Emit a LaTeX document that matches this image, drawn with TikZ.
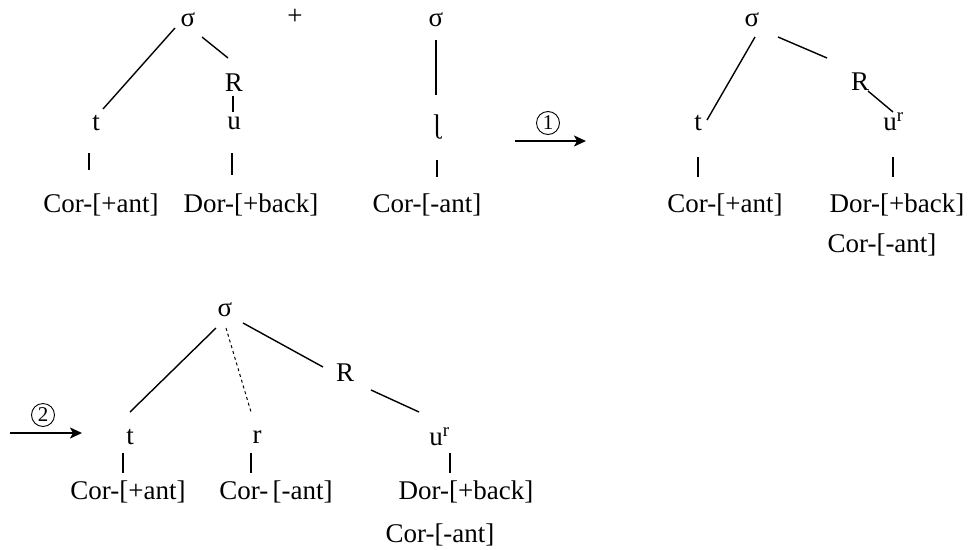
\documentclass[tikz,border=0pt]{standalone}
\usepackage{fontspec}
\setmainfont{Liberation Serif}
\usepackage{tikz}
\usetikzlibrary{arrows.meta}

\tikzset{
  seg/.style={line width=1.4pt},
  lab/.style={inner sep=0pt, font=\fontsize{27pt}{30pt}\selectfont},
  rulenum/.style={circle, draw, line width=0.9pt, inner sep=0pt, minimum size=23pt,
    font=\fontsize{21pt}{23pt}\selectfont},
  step arrow/.style={line width=1.6pt, -{Stealth[length=12pt,width=11pt,inset=3pt]}},
}

\begin{document}
\begin{tikzpicture}[x=1pt,y=-1pt]
  \useasboundingbox (0,0) rectangle (968,549);
  % input: sigma + sigma
  \node[lab] (s1) at (188,20) {σ};
  \node[lab] (t1) at (96,123) {t};
  \node[lab] (R1) at (234,83) {R};
  \node[lab] (u1) at (234,123) {u};
  \node[lab] (c1) at (101,205) {Cor-[+ant]};
  \node[lab] (d1) at (251,205) {Dor-[+back]};
  \node[lab] (plus) at (295,17) {+};
  \node[lab] (s2) at (436,20) {σ};
  \node[lab] (l2) at (437,127) {ɭ};
  \node[lab] (c2) at (427,205) {Cor-[-ant]};
  \draw[seg] ([shift={(-13,8)}]s1.center) -- ([shift={(7,-14)}]t1.center);
  \draw[seg] ([shift={(14,17)}]s1.center) -- ([shift={(-6,-25)}]R1.center);
  \draw[seg] ([shift={(-1,13)}]R1.center) -- ([shift={(-1,-11)}]u1.center);
  \draw[seg] ([shift={(-7,30)}]t1.center) -- ([shift={(-12,-35)}]c1.center);
  \draw[seg] ([shift={(-2,30)}]u1.center) -- ([shift={(-19,-30)}]d1.center);
  \draw[seg] ([shift={(0,20)}]s2.center) -- ([shift={(-1,-32)}]l2.center);
  \draw[seg] ([shift={(0,33)}]l2.center) -- ([shift={(10,-28)}]c2.center);
  % step 1
  \coordinate (a1) at (515,141);
  \coordinate (b1) at (586,141);
  \draw[step arrow] (a1) -- (b1);
  \node[rulenum] (n1) at (548,123) {1};
  \node[lab] (s3) at (752,20) {σ};
  \node[lab] (t3) at (698,123) {t};
  \node[lab] (R3) at (860,82) {R};
  \node[lab] (u3) at (890,122) {u\rlap{\textsuperscript{r}}};
  \node[lab] (c3) at (725,205) {Cor-[+ant]};
  \node[lab] (d3) at (897,205) {Dor-[+back]};
  \node[lab] (e3) at (882,245) {Cor-[-ant]};
  \draw[seg] ([shift={(3,17)}]s3.center) -- ([shift={(9,-3)}]t3.center);
  \draw[seg] ([shift={(26,17)}]s3.center) -- ([shift={(-33,-24)}]R3.center);
  \draw[seg] ([shift={(8,9)}]R3.center) -- ([shift={(3,-10)}]u3.center);
  \draw[seg] ([shift={(0,34)}]t3.center) -- ([shift={(-27,-28)}]c3.center);
  \draw[seg] ([shift={(3,35)}]u3.center) -- ([shift={(-4,-28)}]d3.center);
  % step 2
  \coordinate (a2) at (10,433);
  \coordinate (b2) at (82,433);
  \draw[step arrow] (a2) -- (b2);
  \node[rulenum] (n2) at (43,415) {2};
  \node[lab] (s4) at (225,310) {σ};
  \node[lab] (t4) at (130,437) {t};
  \node[lab] (r4) at (257,437) {r};
  \node[lab] (R4) at (345,373) {R};
  \node[lab] (u4) at (436,437) {u\rlap{\textsuperscript{r}}};
  \node[lab] (c4) at (128,492) {Cor-[+ant]};
  \node[lab] (f4) at (276,492) {Cor-\,[-ant]};
  \node[lab] (d4) at (466,492) {Dor-[+back]};
  \node[lab] (e4) at (440,535) {Cor-[-ant]};
  \draw[seg] ([shift={(-9,18)}]s4.center) -- ([shift={(0,-25)}]t4.center);
  \draw[seg, dashed, line width=1pt] ([shift={(1,18)}]s4.center) -- ([shift={(-6,-25)}]r4.center);
  \draw[seg] ([shift={(18,13)}]s4.center) -- ([shift={(-22,-6)}]R4.center);
  \draw[seg] ([shift={(26,17)}]R4.center) -- ([shift={(-17,-25)}]u4.center);
  \draw[seg] ([shift={(-7,16)}]t4.center) -- ([shift={(-5,-19)}]c4.center);
  \draw[seg] ([shift={(-6,16)}]r4.center) -- ([shift={(-25,-19)}]f4.center);
  \draw[seg] ([shift={(14,16)}]u4.center) -- ([shift={(-16,-19)}]d4.center);
\end{tikzpicture}
\end{document}
